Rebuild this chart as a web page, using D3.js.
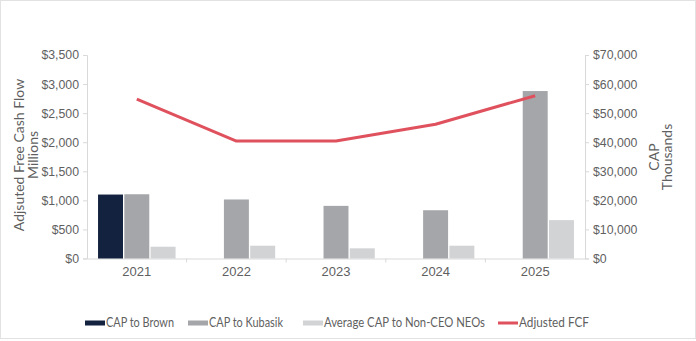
<!DOCTYPE html>
<html><head><meta charset="utf-8">
<script src="https://cdn.jsdelivr.net/npm/d3@7"></script>
<style>body{margin:0;background:#fff;}svg{display:block;font-family:Lato,"Open Sans",sans-serif;}</style>
</head><body><svg id="c" width="696" height="341"></svg>
<script>
const years = ["2021","2022","2023","2024","2025"];
const capBrown = [22000, null, null, null, null];
const capKubasik = [22100, 20300, 18100, 16600, 57600];
const capAvgNeo = [4050, 4400, 3500, 4400, 13200];
const adjFcf = [2740, 2020, 2020, 2310, 2800];
const leftTicks = [0,500,1000,1500,2000,2500,3000,3500];
const rightTicks = [0,10000,20000,30000,40000,50000,60000,70000];
const seriesNames = ["CAP to Brown","CAP to Kubasik","Average CAP to Non-CEO NEOs","Adjusted FCF"];
const colors = ["#13223f","#a5a6a9","#d2d3d5","#e0515e"];

const svg = d3.select("#c");
svg.append("rect").attr("x",0.5).attr("y",0.5).attr("width",695).attr("height",338)
  .attr("fill","#fff").attr("stroke","#e2e2e2");

const x0 = 87, x1 = 585, yTop = 55, yBot = 258.5;
const x = d3.scaleBand().domain(years).range([x0,x1]).paddingInner(0).paddingOuter(0);
const yL = d3.scaleLinear().domain([0,3500]).range([yBot,yTop]);
const yR = d3.scaleLinear().domain([0,70000]).range([yBot,yTop]);
const sub = d3.scaleBand().domain([0,1,2]).range([0,x.bandwidth()]).paddingOuter(0.42).paddingInner(0.05);

const fmt = d3.format("$,");
const gridC = "#d9d9d9", txtC = "#5f5f5f";

const gl = svg.append("g").attr("transform",`translate(${x0},0)`)
  .call(d3.axisLeft(yL).tickValues(leftTicks).tickFormat(fmt).tickSize(4).tickPadding(4));
const gr = svg.append("g").attr("transform",`translate(${x1},0)`)
  .call(d3.axisRight(yR).tickValues(rightTicks).tickFormat(fmt).tickSize(4).tickPadding(4));
const gx = svg.append("g").attr("transform",`translate(0,${yBot})`)
  .call(d3.axisBottom(x).tickSize(0).tickPadding(8));
svg.append("g").selectAll("line").data(years.slice(1)).join("line")
  .attr("x1",d=>x(d)).attr("x2",d=>x(d)).attr("y1",yBot).attr("y2",yBot+4).attr("stroke",gridC);
[gl,gr,gx].forEach(g=>{
  g.selectAll(".domain").attr("stroke",gridC);
  g.selectAll(".tick line").attr("stroke",gridC);
  g.selectAll("text").attr("fill",txtC).attr("font-size",12.3);
});
gx.selectAll("text").attr("font-size",13);

const barSeries = [capBrown, capKubasik, capAvgNeo];
barSeries.forEach((arr,si)=>{
  svg.append("g").selectAll("rect").data(years.map((y,i)=>({y,v:arr[i]})).filter(d=>d.v!=null))
    .join("rect")
    .attr("x",d=>x(d.y)+sub(si)).attr("width",sub.bandwidth())
    .attr("y",d=>yR(d.v)).attr("height",d=>yBot-yR(d.v))
    .attr("fill",colors[si]);
});

const line = d3.line().x((d,i)=>x(years[i])+x.bandwidth()/2).y(d=>yL(d));
svg.append("path").datum(adjFcf).attr("d",line).attr("fill","none")
  .attr("stroke",colors[3]).attr("stroke-width",3).attr("stroke-linejoin","round");

const lt = svg.append("text").attr("transform","translate(24,155) rotate(-90)")
  .attr("text-anchor","middle").attr("fill",txtC).attr("font-size",14);
lt.append("tspan").attr("x",0).attr("dy",0).text("Adjsuted Free Cash Flow");
lt.append("tspan").attr("x",0).attr("dy",14).text("Millions");
const rt = svg.append("text").attr("transform","translate(659,157) rotate(-90)")
  .attr("text-anchor","middle").attr("fill",txtC).attr("font-size",14);
rt.append("tspan").attr("x",0).attr("dy",0).text("CAP");
rt.append("tspan").attr("x",0).attr("dy",13).text("Thousands");

const legX = [85,188,303,498];
const legW = [68,74,161,70];
const lg = svg.append("g");
seriesNames.forEach((n,i)=>{
  const g = lg.append("g").attr("transform",`translate(${legX[i]},323)`);
  if(i<3) g.append("rect").attr("x",0).attr("y",-2.5).attr("width",20).attr("height",5).attr("fill",colors[i]);
  else g.append("rect").attr("x",0).attr("y",-1.5).attr("width",20).attr("height",3).attr("fill",colors[i]);
  g.append("text").attr("x",21).attr("y",0).attr("dy","0.35em").attr("fill",txtC)
    .attr("font-size",12.8).attr("textLength",legW[i]).attr("lengthAdjust","spacingAndGlyphs").text(n);
});
</script></body></html>
